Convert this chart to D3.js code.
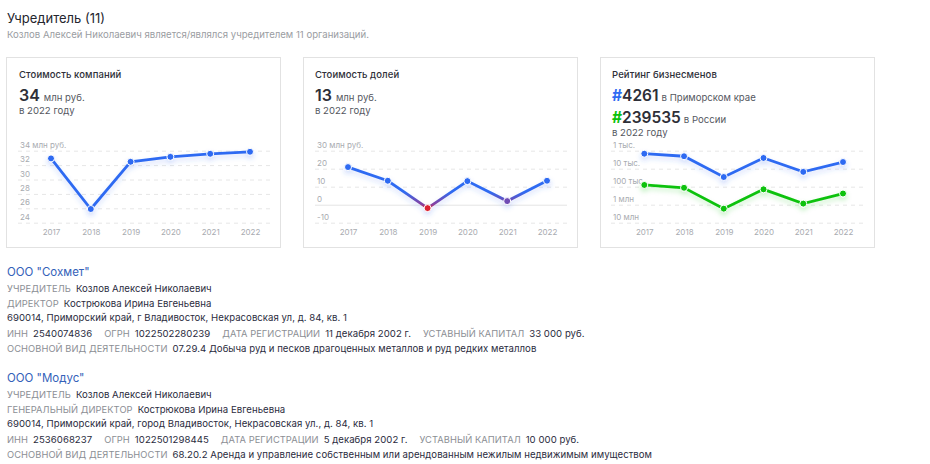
<!DOCTYPE html>
<html lang="ru"><head><meta charset="utf-8">
<script src="https://cdn.jsdelivr.net/npm/d3@7"></script>
<style>
html,body{margin:0;padding:0;background:#fff;width:930px;height:464px;overflow:hidden;font-family:Inter,"Noto Sans",sans-serif;}
#page{position:relative;width:930px;height:464px;}
.t{position:absolute;white-space:pre;line-height:1;}
.card{position:absolute;top:57px;height:191px;box-sizing:border-box;border:1px solid #e2e2e2;}
svg{position:absolute;left:0;top:0;}
.axis text{font-family:Inter,sans-serif;font-size:8px;fill:#a8abb0;}
.axis path{display:none}
.grid line{stroke:#e6e6e6;stroke-dasharray:4 4;}
.grid .zero line{stroke:#e4e4e4;stroke-dasharray:none;}
</style></head><body><div id="page"><svg id="s" width="930" height="464"></svg></div>
<script>
const years=[2017,2018,2019,2020,2021,2022];
const companyValue=[32.93,25.9,32.46,33.15,33.57,33.85];
const shareValue=[20.9,13.3,-1.9,13.1,2,13.3];
const ratingRegion=[1470,2030,29000,2530,15000,4261];
const ratingRussia=[80000,115000,1660000,140000,870000,239535];
const companyTicks=[34,32,30,28,26,24];
const companyTickLabels=["34 млн руб.","32","30","28","26","24"];
const shareTicks=[30,20,10,0,-10];
const shareTickLabels=["30 млн руб.","20","10","0","-10"];
const ratingTicks=[1e3,1e4,1e5,1e6,1e7];
const ratingTickLabels=["1 тыс.","10 тыс.","100 тыс.","1 млн","10 млн"];
const orgs=[
 {name:'ООО "Сохмет"',rows:[
  [["УЧРЕДИТЕЛЬ","Козлов Алексей Николаевич"]],
  [["ДИРЕКТОР","Кострюкова Ирина Евгеньевна"]],
  [["","690014, Приморский край, г Владивосток, Некрасовская ул, д. 84, кв. 1"]],
  [["ИНН","2540074836"],["ОГРН","1022502280239"],["ДАТА РЕГИСТРАЦИИ","11 декабря 2002 г."],["УСТАВНЫЙ КАПИТАЛ","33 000 руб."]],
  [["ОСНОВНОЙ ВИД ДЕЯТЕЛЬНОСТИ","07.29.4 Добыча руд и песков драгоценных металлов и руд редких металлов"]]]},
 {name:'ООО "Модус"',rows:[
  [["УЧРЕДИТЕЛЬ","Козлов Алексей Николаевич"]],
  [["ГЕНЕРАЛЬНЫЙ ДИРЕКТОР","Кострюкова Ирина Евгеньевна"]],
  [["","690014, Приморский край, город Владивосток, Некрасовская ул., д. 84, кв. 1"]],
  [["ИНН","2536068237"],["ОГРН","1022501298445"],["ДАТА РЕГИСТРАЦИИ","5 декабря 2002 г."],["УСТАВНЫЙ КАПИТАЛ","10 000 руб."]],
  [["ОСНОВНОЙ ВИД ДЕЯТЕЛЬНОСТИ","68.20.2 Аренда и управление собственным или арендованным нежилым недвижимым имуществом"]]]}
];
const BLUE="#2f6bf2",GREEN="#0bc20b",RED="#e0222c",DARK="#2e2f38",GRAY="#8b8e94";
const page=d3.select("#page"),svg=d3.select("#s");
function text(x,y,parts){
  const d=page.append("div").attr("class","t").style("left",x+"px").style("top",y+"px");
  parts.forEach(p=>d.append("span").text(p.t).style("font-size",p.s+"px").style("color",p.c||DARK)
    .style("font-weight",p.w||400).style("letter-spacing",(p.l||0)+"px").style("margin-left",(p.m||0)+"px"));
  return d;
}
text(7,9,[{t:"Учредитель (11)",s:13,c:"#25262e"}]);
text(7,24,[{t:"Козлов Алексей Николаевич является/являлся учредителем 11 организаций.",s:9.6,c:"#9a9da2"}]);

const cards=[{x:6,w:275},{x:303,w:275},{x:600,w:275}];
cards.forEach(c=>page.append("div").attr("class","card").style("left",c.x+"px").style("width",c.w+"px"));
text(19,64,[{t:"Стоимость компаний",s:9.5,w:500,l:0.1}]);
text(19,87,[{t:"34",s:16,w:600},{t:"млн руб.",s:9.6,c:"#55585f",m:4}]);
text(19,100,[{t:"в 2022 году",s:9.6,c:"#55585f"}]);
text(315,64,[{t:"Стоимость долей",s:9.5,w:500,l:0.1}]);
text(315,87,[{t:"13",s:16,w:600},{t:"млн руб.",s:9.6,c:"#55585f",m:4}]);
text(315,100,[{t:"в 2022 году",s:9.6,c:"#55585f"}]);
text(612,64,[{t:"Рейтинг бизнесменов",s:9.5,w:500,l:0.1}]);
text(612,87,[{t:"#",s:15.5,w:700,c:BLUE},{t:"4261",s:15.5,w:600},{t:"в Приморском крае",s:9.6,c:"#55585f",m:3}]);
text(612,109,[{t:"#",s:15.5,w:700,c:GREEN},{t:"239535",s:15.5,w:600},{t:"в России",s:9.6,c:"#55585f",m:3}]);
text(612,122,[{t:"в 2022 году",s:9.6,c:"#55585f"}]);

const defs=svg.append("defs");
defs.append("filter").attr("id","glow").attr("x","-10%").attr("y","-30%").attr("width","120%").attr("height","170%")
  .append("feDropShadow").attr("dx",0).attr("dy",3).attr("stdDeviation",2.5).attr("flood-color","#2f6bf2").attr("flood-opacity",.22);
defs.append("filter").attr("id","glowG").attr("x","-10%").attr("y","-30%").attr("width","120%").attr("height","170%")
  .append("feDropShadow").attr("dx",0).attr("dy",3).attr("stdDeviation",2.5).attr("flood-color","#0bc20b").attr("flood-opacity",.22);

function chart(o){
  const g=svg.append("g");
  const x=d3.scalePoint().domain(o.years).range(o.xr);
  const y=o.y;
  const tickLab=new Map(o.ticks.map((t,i)=>[t,o.labels[i]]));
  const ax=g.append("g").attr("class","axis grid").attr("transform",`translate(${o.gx[0]},0)`)
    .call(d3.axisRight(y).tickValues(o.ticks).tickFormat(d=>tickLab.get(d)).tickSize(o.gx[1]-o.gx[0]).tickPadding(0));
  ax.selectAll(".tick text").attr("x",o.lx).attr("dy","-0.42em").attr("text-anchor","start");
  ax.selectAll(".tick").filter(d=>d===0).classed("zero",true);
  const bx=g.append("g").attr("class","axis").attr("transform",`translate(0,${o.by})`)
    .call(d3.axisBottom(x).tickSize(0).tickPadding(0).tickFormat(d3.format("d")));
  bx.selectAll("text").attr("dy","0.71em");
  o.series.forEach(s=>{
    const line=d3.line().x((d,i)=>x(o.years[i])).y(d=>y(d));
    const sg=g.append("g").attr("filter",`url(#${s.glow})`);
    sg.append("path").datum(s.values).attr("d",line).attr("fill","none").attr("stroke",s.stroke).attr("stroke-width",2.8);
    sg.selectAll("circle").data(s.values).join("circle")
      .attr("cx",(d,i)=>x(o.years[i])).attr("cy",d=>y(d)).attr("r",3.5)
      .attr("fill",d=>s.color(d)).attr("stroke","#fff").attr("stroke-width",1);
  });
}
const same=c=>()=>c;

const y1=d3.scaleLinear().domain([34,24]).range([150.7,222.7]);
chart({years,xr:[51,250],gx:[18,270],lx:2,by:229,y:y1,ticks:companyTicks,labels:companyTickLabels,
  series:[{values:companyValue,stroke:BLUE,color:same(BLUE),glow:"glow"}]});

const y2=d3.scaleLinear().domain([30,-10]).range([150.7,222.7]);
const mix=d3.scaleLinear().domain([-2,0,7]).range([RED,"#8a3f9c",BLUE]).clamp(true);
const grad=defs.append("linearGradient").attr("id","shareStroke").attr("gradientUnits","userSpaceOnUse")
  .attr("x1",0).attr("x2",0).attr("y1",y2(7)).attr("y2",y2(-2));
[7,0,-2].forEach((v,i)=>grad.append("stop").attr("offset",[0,.78,1][i]).attr("stop-color",mix(v)));
chart({years,xr:[348,547],gx:[315,567],lx:2,by:229,y:y2,ticks:shareTicks,labels:shareTickLabels,
  series:[{values:shareValue,stroke:"url(#shareStroke)",color:mix,glow:"glow"}]});

const y3=d3.scaleLog().domain([1e3,1e7]).range([150.7,222.7]);
chart({years,xr:[644.3,843],gx:[611,863],lx:2,by:229,y:y3,ticks:ratingTicks,labels:ratingTickLabels,
  series:[{values:ratingRegion,stroke:BLUE,color:same(BLUE),glow:"glow"},
          {values:ratingRussia,stroke:GREEN,color:same(GREEN),glow:"glowG"}]});

const tops=[266,372];
const rowY=[278,293,307,323,338];
orgs.forEach((org,k)=>{
  const off=tops[k]-tops[0];
  text(7,tops[k]-1-3,[{t:org.name,s:11.5,c:"#3461b9"}]);
  org.rows.forEach((row,r)=>{
    const parts=[];
    row.forEach((p,i)=>{
      if(p[0]) parts.push({t:p[0],s:9.3,c:GRAY,m:i?12:0,l:0.08});
      parts.push({t:p[1],s:9.6,c:"#2b2c40",m:p[0]?5:0,l:0.04});
    });
    text(7,rowY[r]+off,parts);
  });
});
</script></body></html>
